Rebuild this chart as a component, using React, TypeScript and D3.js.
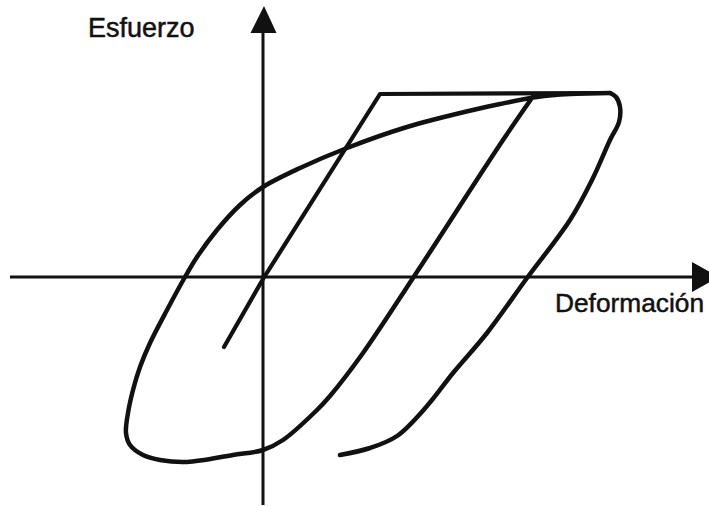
import React from "react";
import * as d3 from "d3";

// Data in arbitrary units (deformación, esfuerzo)
const initialLoadingX = [-1.56, 0, 4.68, 13.88];
const initialLoadingY = [-2.8, -0.08, 7.32, 7.36];

const unloadingX = [13.88, 14.12, 14.28, 14.24, 13.88, 13.16, 12.28, 10.56, 8.96, 7.6, 6.56, 5.36, 4.28, 3.08];
const unloadingY = [7.36, 7.2, 6.8, 6.2, 5.48, 3.88, 2.28, -0.04, -2.24, -3.84, -5.16, -6.36, -6.84, -7.12];

const loopX = [13.88, 12.28, 10.96, 9.48, 8.4, 5.76, 3.36, 1.48, 0.0, -0.92, -1.84, -2.64, -3.12, -3.84, -4.52, -4.92, -5.2, -5.4, -5.48, -5.32, -4.8, -4.12, -3.04, -1.2, 0, 0.8, 2.16, 2.68, 4.0, 6.0, 9.6, 10.84];
const loopY = [7.36, 7.32, 7.2, 6.92, 6.68, 6.0, 5.16, 4.36, 3.6, 2.88, 1.88, 0.8, 0, -1.32, -2.64, -3.6, -4.52, -5.44, -6.24, -6.72, -7.12, -7.32, -7.4, -7.12, -6.92, -6.52, -5.32, -4.76, -3.04, -0.04, 5.48, 7.28];

const xAxisRange = [-10.12, 17.16];
const yAxisRange = [-9.12, 9.76];
const xLabel = "Deformación";
const yLabel = "Esfuerzo";

const W = 709;
const H = 506;

export default function App() {
  const x = d3.scaleLinear().domain([-10, 18]).range([13, 713]);
  const y = d3.scaleLinear().domain([-9, 11]).range([502, 2]);

  const zip = (xs: number[], ys: number[]) => xs.map((v, i) => [v, ys[i]] as [number, number]);
  const linear = d3.line<[number, number]>().x(d => x(d[0])).y(d => y(d[1])).curve(d3.curveLinear);
  const smooth = d3.line<[number, number]>().x(d => x(d[0])).y(d => y(d[1])).curve(d3.curveCatmullRom.alpha(0.5));

  const ox = x(0);
  const oy = y(0);
  const xEnd = x(xAxisRange[1]);
  const yEnd = y(yAxisRange[1]);

  const font = "'Liberation Sans', Arial, sans-serif";
  const ink = "#111";

  return (
    <svg width={W} height={H} style={{ position: "absolute", left: 0, top: 0, background: "#fff" }}>
      <rect width={W} height={H} fill="#fff" />
      {/* axes */}
      <line x1={x(xAxisRange[0])} y1={oy} x2={xEnd} y2={oy} stroke={ink} strokeWidth={3} />
      <line x1={ox} y1={y(yAxisRange[0])} x2={ox} y2={yEnd} stroke={ink} strokeWidth={3} />
      <path d={`M${xEnd},${oy - 15} L${xEnd + 27},${oy} L${xEnd},${oy + 15} Z`} fill={ink} />
      <path d={`M${ox - 12.5},${yEnd} L${ox + 1},${yEnd - 27} L${ox + 13.5},${yEnd} Z`} fill={ink} />
      {/* curves */}
      <path d={linear(zip(initialLoadingX, initialLoadingY)) || ""} fill="none" stroke={ink} strokeWidth={4.2} strokeLinejoin="round" strokeLinecap="round" />
      <path d={smooth(zip(unloadingX, unloadingY)) || ""} fill="none" stroke={ink} strokeWidth={4.5} strokeLinejoin="round" strokeLinecap="round" />
      <path d={smooth(zip(loopX, loopY)) || ""} fill="none" stroke={ink} strokeWidth={4.5} strokeLinejoin="round" strokeLinecap="round" />
      {/* labels */}
      <text x={88} y={37} fontFamily={font} fontSize={27} fill={ink} stroke={ink} strokeWidth={0.5}>{yLabel}</text>
      <text x={555} y={312} fontFamily={font} fontSize={26.3} fill={ink} stroke={ink} strokeWidth={0.5}>{xLabel}</text>
    </svg>
  );
}
